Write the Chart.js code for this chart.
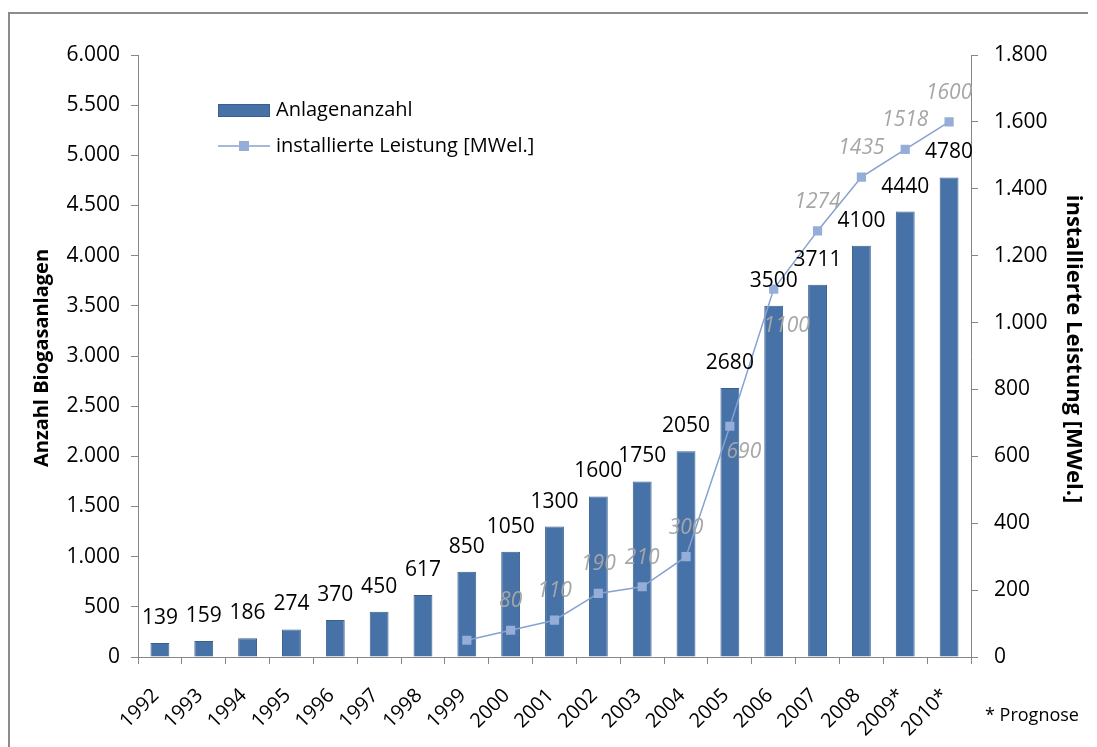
<!DOCTYPE html>
<html><head><meta charset="utf-8">
<script src="https://cdn.jsdelivr.net/npm/chart.js@4.4.0/dist/chart.umd.min.js"></script>
<style>html,body{margin:0;padding:0;background:#fff;}#wrap{width:1097px;height:747px;position:relative;}</style>
</head><body><div id="wrap"><canvas id="c" width="1097" height="747"></canvas></div>
<script>
const years = ['1992','1993','1994','1995','1996','1997','1998','1999','2000','2001','2002','2003','2004','2005','2006','2007','2008','2009*','2010*'];
const anlagenanzahl = [139,159,186,274,370,450,617,850,1050,1300,1600,1750,2050,2680,3500,3711,4100,4440,4780];
const leistung = [null,null,null,null,null,null,null,50,80,110,190,210,300,690,1100,1274,1435,1518,1600];
const hiddenLineLabels = ['1999'];
const leftMax = 6000, leftStep = 500;
const rightMax = 1800, rightStep = 200;
const seriesNames = ['Anlagenanzahl', 'installierte Leistung [MWel.]'];
const axisTitles = ['Anzahl Biogasanlagen', 'installierte Leistung [MWel.]'];
const footnote = '* Prognose';

const FONT = "'Open Sans', sans-serif";
const BAR_FILL = '#4672A8', BAR_BORDER = '#3A5F8D';
const LINE_COLOR = '#86A2D0', MARKER = '#95AED8';
const AXIS = '#868686';

function fmt(v){ return String(v).replace(/\B(?=(\d{3})+(?!\d))/g, '.'); }

Chart.defaults.font.family = FONT;
Chart.defaults.color = '#000';

const overlay = {
  id: 'overlay',
  beforeDraw(chart){
    const ctx = chart.ctx;
    ctx.save();
    ctx.fillStyle = '#fff';
    ctx.fillRect(0,0,chart.width,chart.height);
    ctx.strokeStyle = '#8C8C8C';
    ctx.lineWidth = 2;
    ctx.beginPath();
    ctx.moveTo(9, 760); ctx.lineTo(9, 13); ctx.lineTo(1088, 13);
    ctx.stroke();
    ctx.restore();
  },
  afterDatasetsDraw(chart){
    const ctx = chart.ctx;
    ctx.save();
    ctx.textAlign = 'center';
    ctx.textBaseline = 'middle';
    ctx.font = '21px ' + FONT;
    ctx.fillStyle = '#000';
    chart.getDatasetMeta(0).data.forEach((el, i) => {
      ctx.fillText(String(anlagenanzahl[i]), el.x, el.y - 25);
    });
    ctx.font = 'italic 21px ' + FONT;
    ctx.fillStyle = '#A6A6A6';
    const below = {'2005': [14, 26], '2006': [13, 37]};
    chart.getDatasetMeta(1).data.forEach((el, i) => {
      if (leistung[i] == null || hiddenLineLabels.includes(years[i])) return;
      const off = below[years[i]] || [0, -29];
      ctx.fillText(String(leistung[i]), el.x + off[0], el.y + off[1]);
    });
    ctx.restore();
  },
  afterDraw(chart){
    const ctx = chart.ctx;
    ctx.save();
    ctx.fillStyle = BAR_FILL; ctx.strokeStyle = BAR_BORDER; ctx.lineWidth = 1;
    ctx.fillRect(218, 104, 52, 13); ctx.strokeRect(218.5, 104.5, 51, 12);
    ctx.strokeStyle = LINE_COLOR; ctx.lineWidth = 1.5;
    ctx.beginPath(); ctx.moveTo(218, 146); ctx.lineTo(270, 146); ctx.stroke();
    ctx.fillStyle = MARKER; ctx.fillRect(239, 141, 10, 10);
    ctx.fillStyle = '#000';
    ctx.font = '20px ' + FONT;
    ctx.textAlign = 'left'; ctx.textBaseline = 'middle';
    ctx.fillText(seriesNames[0], 276, 110);
    ctx.fillText(seriesNames[1], 276, 146);
    ctx.font = '18px ' + FONT;
    ctx.fillText(footnote, 985, 716);
    ctx.textAlign = 'center';
    ctx.font = 'bold 20px ' + FONT;
    ctx.save(); ctx.translate(42, 358); ctx.rotate(-Math.PI/2); ctx.fillText(axisTitles[0], 0, 0); ctx.restore();
    ctx.font = 'bold 22px ' + FONT;
    ctx.save(); ctx.translate(1073, 349); ctx.rotate(Math.PI/2); ctx.fillText(axisTitles[1], 0, 0); ctx.restore();
    ctx.restore();
  }
};

new Chart(document.getElementById('c'), {
  data: {
    labels: years,
    datasets: [
      { type: 'bar', label: seriesNames[0], data: anlagenanzahl, yAxisID: 'y',
        backgroundColor: BAR_FILL, borderColor: BAR_BORDER, borderWidth: 1,
        categoryPercentage: 1, barPercentage: 0.43, order: 2 },
      { type: 'line', label: seriesNames[1], data: leistung, yAxisID: 'y1',
        borderColor: LINE_COLOR, borderWidth: 1.5, pointStyle: 'rect', pointRadius: 6.5,
        pointBackgroundColor: MARKER, pointBorderColor: MARKER, pointBorderWidth: 0,
        spanGaps: false, tension: 0, order: 1 }
    ]
  },
  options: {
    responsive: false, animation: false, devicePixelRatio: 1,
    layout: { padding: { top: 55, left: 0, right: 0, bottom: 0 } },
    plugins: { legend: { display: false }, tooltip: { enabled: false } },
    scales: {
      x: {
        offset: true,
        grid: { display: true, drawOnChartArea: false, tickLength: 7, color: AXIS, offset: true },
        border: { color: AXIS, width: 1 },
        ticks: { minRotation: 45, maxRotation: 45, autoSkip: false, font: { size: 20 }, color: '#000', padding: 20, labelOffset: -4 },
        afterFit(s){ s.height = 90; }
      },
      y: {
        position: 'left', min: 0, max: leftMax,
        grid: { drawOnChartArea: false, tickLength: 7, color: AXIS },
        border: { color: AXIS, width: 1 },
        ticks: { stepSize: leftStep, font: { size: 21 }, color: '#000', padding: 11, callback: v => fmt(v) },
        afterFit(s){ s.width = 138; }
      },
      y1: {
        position: 'right', min: 0, max: rightMax,
        grid: { drawOnChartArea: false, tickLength: 7, color: AXIS },
        border: { color: AXIS, width: 1 },
        ticks: { stepSize: rightStep, font: { size: 21 }, color: '#000', padding: 16, callback: v => fmt(v) },
        afterFit(s){ s.width = 126; }
      }
    }
  },
  plugins: [overlay]
});
</script></body></html>
